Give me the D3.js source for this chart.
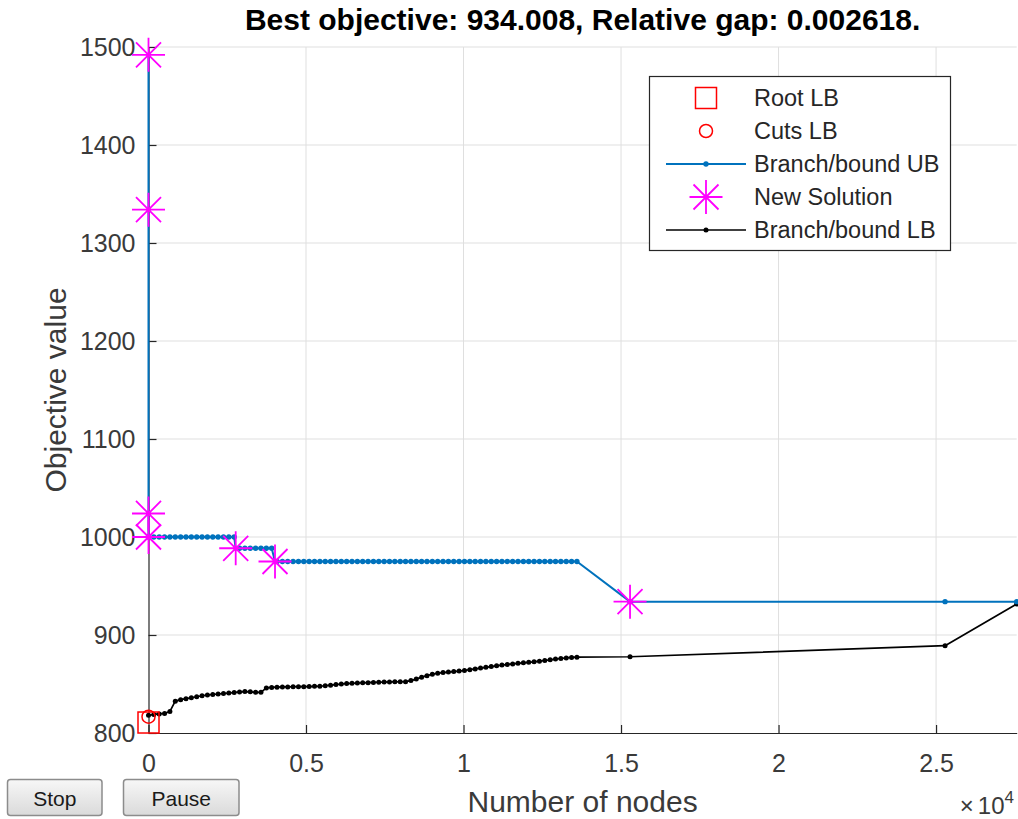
<!DOCTYPE html>
<html>
<head>
<meta charset="utf-8">
<script src="https://cdn.jsdelivr.net/npm/d3@7"></script>
<style>
  html, body { margin: 0; padding: 0; background: #ffffff; }
  svg { display: block; font-family: "Liberation Sans", Arial, Helvetica, sans-serif; }
</style>
</head>
<body>
<svg id="chart" width="1018" height="819"></svg>
<script>
// ---------------- data ----------------
const titleText = "Best objective: 934.008, Relative gap: 0.002618.";
const xLabel = "Number of nodes";
const yLabel = "Objective value";
const xTicks = [0, 5000, 10000, 15000, 20000, 25000];
const xTickLabels = ["0", "0.5", "1", "1.5", "2", "2.5"];
const yTicks = [800, 900, 1000, 1100, 1200, 1300, 1400, 1500];
const legendLabels = ["Root LB", "Cuts LB", "Branch/bound UB", "New Solution", "Branch/bound LB"];

// logged nodes (dense part of the run)
const nodes = [0,170,340,510,680,850,1020,1190,1360,1530,1700,1870,2040,2210,2380,2550,2720,
  2890,3060,3230,3400,3570,3740,3910,4080,4250,4420,4590,4760,4930,5100,5270,5440,5610,5780,
  5950,6120,6290,6460,6630,6800,6970,7140,7310,7480,7650,7820,7990,8160,8330,8500,8670,8840,
  9010,9180,9350,9520,9690,9860,10030,10200,10370,10540,10710,10880,11050,11220,11390,11560,
  11730,11900,12070,12240,12410,12580,12750,12920,13090,13260,13430,13600];
const ubValues = [1000,1000,1000,1000,1000,1000,1000,1000,1000,1000,1000,1000,1000,1000,1000,1000,1000,
  988.5,988.5,988.5,988.5,988.5,988.5,988.5,975,975,975,975,975,975,975,975,975,975,975,
  975,975,975,975,975,975,975,975,975,975,975,975,975,975,975,975,975,975,
  975,975,975,975,975,975,975,975,975,975,975,975,975,975,975,975,
  975,975,975,975,975,975,975,975,975,975,975,975];
const lbValues = [818,819,819.5,820,822,832.5,834,835,836,837,838,838.8,839.3,839.8,840.3,840.7,841.3,
  841.9,842.3,842,841.5,841.5,846,846.5,846.8,847,847,847.2,847.3,847.3,847.4,847.6,847.8,848.2,848.8,
  849.4,850,850.4,850.7,851,851.2,851.4,851.6,851.8,852,852.1,852.2,852.3,852.4,853.5,855,857,858.5,
  860,861,861.7,862.2,862.7,863.2,863.8,864.6,865.4,866.2,867,867.8,868.5,869.3,869.9,870.5,
  871.1,871.6,872.1,872.6,873.3,874,874.7,875.4,876,876.6,877.1,877.4];
// sparse tail of the run
const tailNodes = [15286, 25286, 27560];
const ubTail = [934.008, 934.008, 934.008];
const lbTail = [877.8, 889.1, 931.6];
// new incumbent solutions
const solutionNodes = [0, 0, 0, 0, 2768, 4016, 15286];
const solutionValues = [1492, 1334, 1024, 1000, 988.5, 975, 934.008];
// root / cuts lower bounds
const rootNodes = [0];
const rootValues = [810.7];
const cutsNodes = [0];
const cutsValues = [816.6];
const xMax = 27560;
const buttonLabels = ["Stop", "Pause"];

(function () {
// ---------------- layout ----------------
const svg = d3.select("#chart");
const pLeft = 148.5, pRight = 1016.7, pTop = 47, pBottom = 733;
const x = d3.scaleLinear().domain([0, xMax]).range([pLeft, pRight]);
const y = d3.scaleLinear().domain([800, 1500]).range([pBottom, pTop]);
const axisColor = "#262626";
const tickTextColor = "#3a3a3a";
const blue = "#0072BD";
const magenta = "#FF00FF";

svg.append("rect").attr("width", 1018).attr("height", 819).attr("fill", "#ffffff");

// grid
const grid = svg.append("g").attr("stroke", "#dfdfdf").attr("stroke-width", 1);
xTicks.filter(d => d > 0).forEach(d => {
  grid.append("line").attr("x1", x(d)).attr("x2", x(d)).attr("y1", pTop).attr("y2", pBottom);
});
yTicks.filter(d => d > 800).forEach(d => {
  grid.append("line").attr("x1", pLeft).attr("x2", pRight).attr("y1", y(d)).attr("y2", y(d));
});

// axes
const xAxis = d3.axisBottom(x).tickValues(xTicks)
  .tickFormat((d, i) => xTickLabels[i]).tickSizeInner(-8).tickSizeOuter(0).tickPadding(21);
const yAxis = d3.axisLeft(y).tickValues(yTicks)
  .tickFormat(d => String(d)).tickSizeInner(-8).tickSizeOuter(0).tickPadding(13);

const gx = svg.append("g").attr("transform", `translate(0,${pBottom})`).call(xAxis);
const gy = svg.append("g").attr("transform", `translate(${pLeft},0)`).call(yAxis);
[gx, gy].forEach(g => {
  g.select(".domain").attr("stroke", axisColor).attr("stroke-width", 1.2);
  g.selectAll(".tick line").attr("stroke", axisColor).attr("stroke-width", 1.2);
  g.selectAll(".tick text").attr("fill", tickTextColor).style("font-size", "25px")
    .style("font-family", "Liberation Sans, Arial, sans-serif");
});

// ---------------- series ----------------
const lbPts = nodes.map((n, i) => [n, lbValues[i]]).concat(tailNodes.map((n, i) => [n, lbTail[i]]));
const ubLogged = nodes.map((n, i) => [n, ubValues[i]]).concat(tailNodes.map((n, i) => [n, ubTail[i]]));
const solPts = solutionNodes.map((n, i) => [n, solutionValues[i]]);
const ubLine = ubLogged.map(p => ({p, k: 1})).concat(solPts.map(p => ({p, k: 0})))
  .sort((a, b) => a.p[0] - b.p[0] || (b.p[1] - a.p[1]) || a.k - b.k).map(o => o.p);

const line = d3.line().x(d => x(d[0])).y(d => y(d[1]));

// LB (black)
svg.append("path").datum(lbPts).attr("d", line).attr("fill", "none")
  .attr("stroke", "#000").attr("stroke-width", 1.7).attr("stroke-linejoin", "round");
svg.append("g").selectAll("circle").data(lbPts).join("circle")
  .attr("cx", d => x(d[0])).attr("cy", d => y(d[1])).attr("r", 2.5).attr("fill", "#000");

// UB (blue)
svg.append("path").datum(ubLine).attr("d", line).attr("fill", "none")
  .attr("stroke", blue).attr("stroke-width", 2).attr("stroke-linejoin", "round");
svg.append("g").selectAll("circle").data(ubLogged).join("circle")
  .attr("cx", d => x(d[0])).attr("cy", d => y(d[1])).attr("r", 2.7).attr("fill", blue);

// markers
const starPath = "M-16.5,0H16.5M0,-17V17M-12.5,-12.5L12.5,12.5M-12.5,12.5L12.5,-12.5";
svg.append("g").selectAll("path").data(solPts).join("path")
  .attr("transform", d => `translate(${x(d[0])},${y(d[1])})`)
  .attr("d", starPath).attr("stroke", magenta).attr("stroke-width", 1.8).attr("fill", "none");

svg.append("g").selectAll("rect").data(rootNodes.map((n, i) => [n, rootValues[i]])).join("rect")
  .attr("x", d => x(d[0]) - 10.5).attr("y", d => y(d[1]) - 10.5)
  .attr("width", 21).attr("height", 21)
  .attr("fill", "none").attr("stroke", "#ff0000").attr("stroke-width", 1.5);
svg.append("g").selectAll("circle").data(cutsNodes.map((n, i) => [n, cutsValues[i]])).join("circle")
  .attr("cx", d => x(d[0])).attr("cy", d => y(d[1])).attr("r", 6.5)
  .attr("fill", "none").attr("stroke", "#ff0000").attr("stroke-width", 1.5);

// ---------------- legend ----------------
const lg = svg.append("g");
lg.append("rect").attr("x", 649.5).attr("y", 76.5).attr("width", 301).attr("height", 174)
  .attr("fill", "#fff").attr("stroke", axisColor).attr("stroke-width", 1.2);
const rowY = [98, 131, 164, 197, 230];
const symX = 706;
legendLabels.forEach((lab, i) => {
  lg.append("text").attr("x", 754).attr("y", rowY[i]).attr("dy", "0.35em")
    .attr("fill", axisColor).style("font-size", "23.5px").text(lab);
});
lg.append("rect").attr("x", symX - 10.5).attr("y", rowY[0] - 10.5).attr("width", 21).attr("height", 21)
  .attr("fill", "none").attr("stroke", "#ff0000").attr("stroke-width", 1.5);
lg.append("circle").attr("cx", symX).attr("cy", rowY[1]).attr("r", 6.5)
  .attr("fill", "none").attr("stroke", "#ff0000").attr("stroke-width", 1.5);
lg.append("line").attr("x1", 666).attr("x2", 746).attr("y1", rowY[2]).attr("y2", rowY[2])
  .attr("stroke", blue).attr("stroke-width", 2);
lg.append("circle").attr("cx", symX).attr("cy", rowY[2]).attr("r", 2.7).attr("fill", blue);
lg.append("path").attr("transform", `translate(${symX},${rowY[3]})`).attr("d", starPath)
  .attr("stroke", magenta).attr("stroke-width", 1.8).attr("fill", "none");
lg.append("line").attr("x1", 666).attr("x2", 746).attr("y1", rowY[4]).attr("y2", rowY[4])
  .attr("stroke", "#000").attr("stroke-width", 1.7);
lg.append("circle").attr("cx", symX).attr("cy", rowY[4]).attr("r", 2.5).attr("fill", "#000");

// ---------------- titles ----------------
svg.append("text").attr("x", (pLeft + pRight) / 2).attr("y", 30).attr("text-anchor", "middle")
  .attr("fill", "#000").style("font-size", "30px").style("font-weight", "bold").text(titleText);
svg.append("text").attr("x", (pLeft + pRight) / 2).attr("y", 812).attr("text-anchor", "middle")
  .attr("fill", tickTextColor).style("font-size", "30px").text(xLabel);
svg.append("text").attr("transform", `translate(66,${(pTop + pBottom) / 2}) rotate(-90)`)
  .attr("text-anchor", "middle").attr("fill", tickTextColor).style("font-size", "30px").text(yLabel);

const expo = svg.append("text").attr("x", 1014).attr("y", 814).attr("text-anchor", "end")
  .attr("fill", tickTextColor).style("font-size", "24px");
expo.append("tspan").text("\u00D7");
expo.append("tspan").attr("dx", 4).text("10");
expo.append("tspan").attr("dy", -11).style("font-size", "17px").text("4");

// ---------------- buttons ----------------
const btns = [{x: 7.5, w: 94.5}, {x: 123.5, w: 115.5}];
const defs = svg.append("defs");
const grad = defs.append("linearGradient").attr("id", "btnGrad").attr("x1", 0).attr("x2", 0).attr("y1", 0).attr("y2", 1);
grad.append("stop").attr("offset", "0%").attr("stop-color", "#f7f7f7");
grad.append("stop").attr("offset", "100%").attr("stop-color", "#dadada");
btns.forEach((b, i) => {
  svg.append("rect").attr("x", b.x).attr("y", 779.5).attr("width", b.w).attr("height", 36)
    .attr("rx", 3).attr("fill", "url(#btnGrad)").attr("stroke", "#8c8c8c").attr("stroke-width", 1.5);
  svg.append("text").attr("x", b.x + b.w / 2).attr("y", 806).attr("text-anchor", "middle")
    .attr("fill", "#1a1a1a").style("font-size", "21px").text(buttonLabels[i]);
});
})();
</script>
</body>
</html>
